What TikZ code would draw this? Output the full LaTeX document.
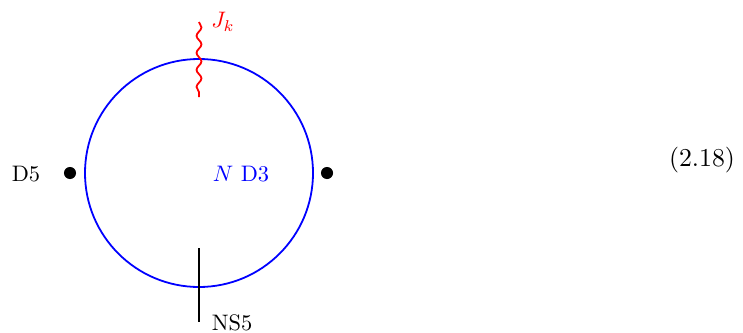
\documentclass[tikz,border=0pt]{standalone}
\usetikzlibrary{decorations.pathmorphing}
\begin{document}
\begin{tikzpicture}[x=0.4464pt,y=-0.4464pt,
  lbl/.style={inner sep=0pt, anchor=center},
  dot/.style={circle, fill=black, inner sep=0pt, minimum size=5.4pt}]
\useasboundingbox (0,0) rectangle (743,332);
\node[draw=blue, line width=0.8pt, circle, minimum size=228*0.4464pt, inner sep=0pt] (c) at (199,173) {};
\node[dot] (dl) at (70,173) {};
\node[dot] (dr) at (327,173) {};
\node[lbl] (d5) at (26,174) {D5};
\node[lbl, text=blue] (d3) at (241,174) {$N$ D3};
\coordinate (ns5t) at (199,248);
\coordinate (ns5b) at (199,322);
\draw[line width=0.8pt] (ns5t) -- (ns5b);
\node[lbl] (ns5) at (232,323) {NS5};
\coordinate (jt) at (199,22);
\coordinate (jb) at (199,97);
\draw[red, line width=0.8pt, decorate, decoration={snake, amplitude=1.1pt, segment length=7.6pt}] (jt) -- (jb);
\node[lbl, text=red] (jk) at (223,22) {$J_k$};
\node[lbl, scale=1.15] (eq) at (702,160) {(2.18)};
\end{tikzpicture}
\end{document}
